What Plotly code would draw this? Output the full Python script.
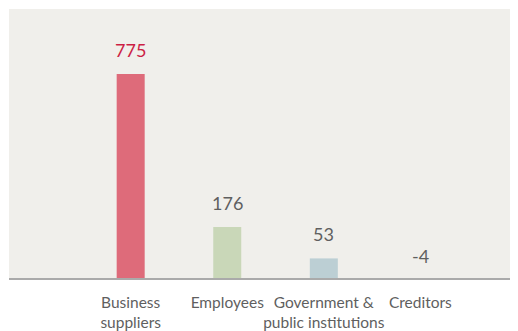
import plotly.graph_objects as go

# Data
categories = ["Business<br>suppliers", "Employees", "Government &<br>public institutions", "Creditors"]
values = [775, 176, 53, -4]
bar_colors = ["#de6b7a", "#c9d7b8", "#bccfd4", "rgba(0,0,0,0)"]
label_colors = ["#cc1f45", "#5f5f5f", "#5f5f5f", "#5f5f5f"]

# value axis: bars stand on the axis floor, not on zero
Y_FLOOR = -23.7
Y_TOP = 1029.5

FONT = "Lato, 'Source Sans Pro', 'Noto Sans', sans-serif"

fig = go.Figure()
fig.add_trace(
    go.Bar(
        x=categories,
        y=[v - Y_FLOOR for v in values],
        base=Y_FLOOR,
        width=0.29,
        marker=dict(color=bar_colors, line=dict(width=0)),
        hoverinfo="skip",
        showlegend=False,
    )
)

for cat, v, c in zip(categories, values, label_colors):
    fig.add_annotation(
        x=cat,
        y=v,
        text=str(v),
        showarrow=False,
        yanchor="middle",
        yshift=24 if v >= 0 else 17,
        font=dict(family=FONT, size=18, color=c),
    )

# page body adds an 8px margin, so the figure is 8px smaller than the window
fig.update_layout(
    width=510,
    height=323,
    margin=dict(l=1, r=2, t=1, b=53, autoexpand=False),
    paper_bgcolor="white",
    plot_bgcolor="#f0efeb",
    font=dict(family=FONT, size=16, color="#5f5f5f"),
    xaxis=dict(
        range=[-1.26, 3.99],
        showgrid=False,
        zeroline=False,
        showline=True,
        linecolor="#aaaaaa",
        linewidth=2,
        ticks="",
        tickangle=0,
        automargin=False,
        ticklabelstandoff=9,
        tickfont=dict(family=FONT, size=15.5, color="#5f5f5f"),
    ),
    yaxis=dict(
        range=[Y_FLOOR, Y_TOP],
        showgrid=False,
        zeroline=False,
        showticklabels=False,
        ticks="",
    ),
)

fig.write_html("out.html")
